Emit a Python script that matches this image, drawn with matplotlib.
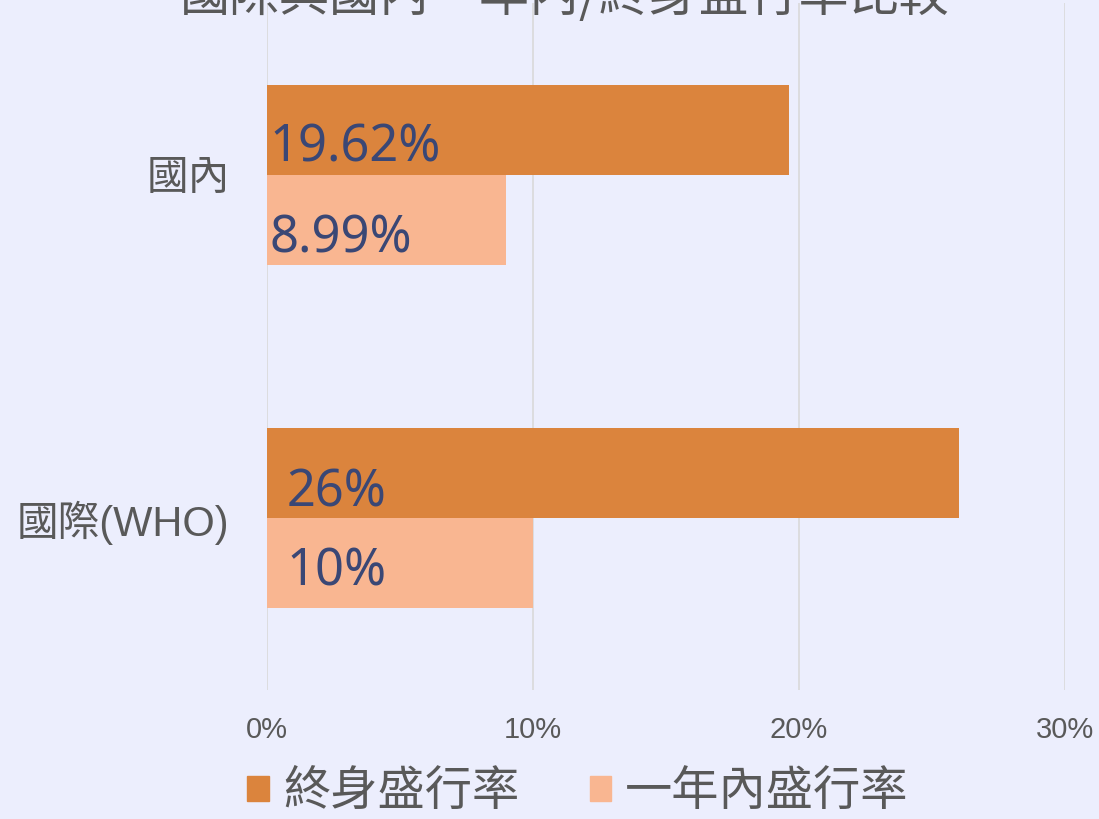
import matplotlib.pyplot as plt
import matplotlib.ticker as ticker
from matplotlib.patches import Patch
import numpy as np

plt.rcParams['font.family'] = ['Noto Sans CJK TC', 'DejaVu Sans']

categories   = ["國內", "國際(WHO)"]
lifetime     = [19.62, 26.0]   # 終身盛行率 (%)
one_year     = [8.99, 10.0]    # 一年內盛行率 (%)
life_labels  = ["19.62%", "26%"]
year_labels  = ["8.99%", "10%"]
series_names = ["終身盛行率", "一年內盛行率"]
x_ticks      = [0, 10, 20, 30]
title        = "國際與國內一年內/終身盛行率比較"

BG        = "#ECEEFD"
C_LIFE    = "#DB843D"
C_YEAR    = "#F9B691"
C_LABEL   = "#3A4775"
C_TEXT    = "#595959"
BAR_H     = 0.262

fig = plt.figure(figsize=(10.99, 8.19), dpi=100, facecolor=BG)
ax = fig.add_axes([267 / 1099, 129 / 819, 798 / 1099, 687 / 819], facecolor=BG)

y = np.arange(len(categories))
ax.barh(y - BAR_H / 2, lifetime, height=BAR_H, color=C_LIFE, zorder=3)
ax.barh(y + BAR_H / 2, one_year, height=BAR_H, color=C_YEAR, zorder=3)

# value labels sit at the bar base, slightly below the bar centre
label_dx = [2, 14]
life_dy  = [-13, -14]
year_dy  = [-14, -6]
for i in range(len(categories)):
    ax.annotate(life_labels[i], (0, y[i] - BAR_H / 2), xytext=(label_dx[i], life_dy[i]),
                textcoords="offset points", ha="left", va="center",
                fontsize=36.5, color=C_LABEL, family="Noto Sans", zorder=4)
    ax.annotate(year_labels[i], (0, y[i] + BAR_H / 2), xytext=(label_dx[i], year_dy[i]),
                textcoords="offset points", ha="left", va="center",
                fontsize=36.5, color=C_LABEL, family="Noto Sans", zorder=4)

ax.set_xlim(0, 30)
ax.set_ylim(1.5, -0.5)
ax.set_xticks(x_ticks)
ax.xaxis.set_major_formatter(ticker.FuncFormatter(lambda v, _: f"{v:.0f}%"))
ax.set_yticks(y)
ax.set_yticklabels(categories)
ax.tick_params(axis="x", length=0, pad=19, labelsize=21, labelcolor=C_TEXT)
ax.tick_params(axis="y", length=0, pad=27, labelsize=30, labelcolor=C_TEXT)
for lab in ax.get_xticklabels():
    lab.set_family(['Liberation Sans', 'Noto Sans CJK TC'])
for lab in ax.get_yticklabels():
    lab.set_family(['Liberation Sans', 'Noto Sans CJK TC'])

ax.grid(axis="x", color="#D9D9D9", lw=1.2, zorder=0)
for s in ax.spines.values():
    s.set_visible(False)

fig.text(0.514, 1.004, title, ha="center", va="center", fontsize=36, color=C_TEXT)

handles = [Patch(color=C_LIFE), Patch(color=C_YEAR)]
fig.legend(handles, series_names, loc="center", bbox_to_anchor=(0.526, 0.033), ncol=2,
           frameon=False, fontsize=34, labelcolor=C_TEXT, handlelength=0.45,
           handleheight=0.45, handletextpad=0.3, columnspacing=1.5)

plt.savefig("out.png", dpi=100, facecolor=BG)
